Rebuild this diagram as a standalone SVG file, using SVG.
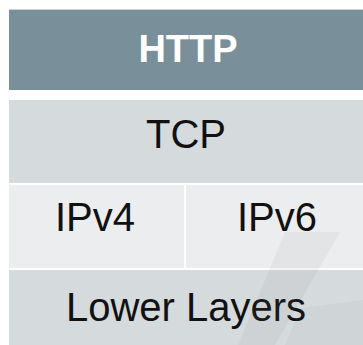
<svg xmlns="http://www.w3.org/2000/svg" width="363" height="345" viewBox="0 0 363 345">
<style>
.t{font-family:"Liberation Sans",Arial,sans-serif;font-size:40px;fill:#111;text-anchor:middle}
.h{font-weight:bold;fill:#fff;font-size:38px}
</style>
<rect width="363" height="345" fill="#fff"/>
<g id="http"><rect x="9" y="9" width="354" height="1.5" fill="#c9d2d7"/><rect x="9" y="10" width="354" height="80" fill="#798f99"/><text class="t h" x="188" y="62">HTTP</text></g>
<g id="tcp"><rect x="9" y="100" width="354" height="83" fill="#d5dadd"/><text class="t" x="186" y="148">TCP</text></g>
<g id="ipv4"><rect x="9" y="185" width="175" height="83" fill="#ebedef"/><text class="t" x="95" y="231">IPv4</text></g>
<g id="ipv6"><rect x="186" y="185" width="177" height="83" fill="#ebedef"/><text class="t" x="277" y="231">IPv6</text></g>
<g id="lower"><rect x="9" y="270" width="354" height="75" fill="#d5dadd"/><text class="t" x="186" y="321">Lower Layers</text></g>
<g id="connectors"/>
<polygon points="285,232 340,232 275,345 238,345" fill="#7a7a7a" opacity="0.08"/>
<polygon points="300,308 363,300 363,345 285,345" fill="#7a7a7a" opacity="0.06"/>
</svg>
